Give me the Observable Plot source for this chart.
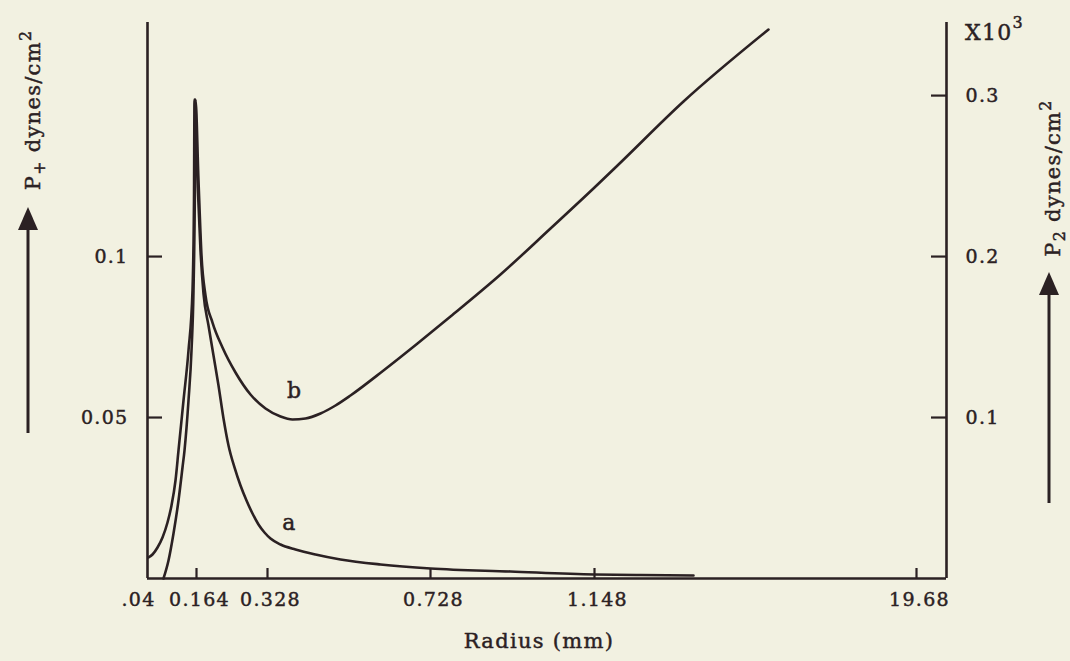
<!DOCTYPE html>
<html>
<head>
<meta charset="utf-8">
<script src="https://cdn.jsdelivr.net/npm/d3@7"></script>
<script src="https://cdn.jsdelivr.net/npm/@observablehq/plot@0.6"></script>
<style>
  html, body { margin: 0; padding: 0; background: #f2f1e1; }
  #chart svg text { letter-spacing: 1.3px; stroke: #2b2123; stroke-width: 0.45px; }
</style>
</head>
<body>
<div id="chart"></div>
<script>
// ---- tick values and labels ----
const xTicks = [0.04, 0.164, 0.328, 0.728, 1.148, 19.68];
const xTickLabels = [".04", "0.164", "0.328", "0.728", "1.148", "19.68"];
const xAxisEnd = 21.4;                     // right end of the radius axis
const leftTicks = [0.05, 0.1];
const leftTickLabels = ["0.05", "0.1"];
const rightTicks = [0.1, 0.2, 0.3];        // P2 (x10^3) dynes/cm^2
const rightTickLabels = ["0.1", "0.2", "0.3"];
const rightPerLeft = 2;                    // right-axis units per left-axis unit
const yTop = 0.1727;

// ---- curve a : P+ (left axis) ----
const radiusA = [0.04253, 0.05265, 0.06531, 0.07796, 0.09061, 0.10073, 0.11086, 0.11845, 0.13110, 0.14375,
                 0.15388, 0.15767, 0.15894,
                 0.16631, 0.17324, 0.18017, 0.19172, 0.20327, 0.21482, 0.22637, 0.23792, 0.25178, 0.26564,
                 0.27950, 0.29335, 0.30721, 0.32107, 0.33536, 0.35990, 0.39671, 0.44579, 0.50714, 0.60530,
                 0.728, 0.93288, 1.148, 3.79544, 6.84575];
const pressureA = [0.00652, 0.00745, 0.00963, 0.01273, 0.01739, 0.02267, 0.03044, 0.03976, 0.05529, 0.07082,
                   0.08945, 0.11741, 0.14878,
                   0.12362, 0.10188, 0.08852, 0.07858, 0.06926, 0.05995, 0.04970, 0.04131, 0.03448, 0.02889,
                   0.02423, 0.02019, 0.01677, 0.01429, 0.01242, 0.01056, 0.00901, 0.00745, 0.00590, 0.00435,
                   0.00311, 0.00217, 0.00124, 0.00109, 0.00093];

// ---- curve b : P2 (right axis, x10^3) ----
const radiusB = [0.08049, 0.09314, 0.10580, 0.11845, 0.12857, 0.13363, 0.14375, 0.15135, 0.15641, 0.15970,
                 0.16147,
                 0.16862, 0.17555, 0.18479, 0.20096, 0.22406, 0.25409, 0.28873, 0.32338, 0.36000, 0.38935,
                 0.42125, 0.45806, 0.49487, 0.53168, 0.61266, 0.69610, 0.77922, 0.90727, 1.03532, 1.148,
                 2.47172, 6.27022, 11.16222];
const pressureB = [0.0, 0.01118, 0.02795, 0.04845, 0.06895, 0.07951, 0.11057, 0.14163, 0.17891, 0.23481,
                   0.29755,
                   0.24724, 0.20065, 0.17580, 0.15903, 0.14350, 0.12797, 0.11430, 0.10560, 0.10063, 0.09877,
                   0.09939, 0.10250, 0.10747, 0.11368, 0.12921, 0.14598, 0.16275, 0.18884, 0.21742, 0.24289,
                   0.25656, 0.29631, 0.34104];

// ---- curve labels ----
const curveNames = ["a", "b"];
const curveLabelRadius = [0.382, 0.3945];
const curveLabelP = [0.0171, 0.0584];      // in left-axis units

const ink = "#2b2123";
const curveA = radiusA.map((r, i) => ({r, p: pressureA[i]}));
const curveB = radiusB.map((r, i) => ({r, p: pressureB[i]}));
const labels = curveNames.map((t, i) => ({t, r: curveLabelRadius[i], p: curveLabelP[i]}));
const rightTicksLeftUnits = rightTicks.map(d => d / rightPerLeft);
const xLabel = d => xTickLabels[xTicks.indexOf(d)];

const chart = Plot.plot({
  width: 1070,
  height: 661,
  marginLeft: 147,
  marginRight: 124,
  marginTop: 22,
  marginBottom: 83,
  style: {background: "#f2f1e1", color: ink, fontFamily: "'DejaVu Serif', serif", fontSize: "19px"},
  x: {type: "linear", domain: [...xTicks, xAxisEnd], range: [147, 196, 267, 430, 594, 916, 946]},
  y: {domain: [0, yTop]},
  marks: [
    // frame: left, right, bottom
    Plot.ruleX([xTicks[0], xAxisEnd], {stroke: ink, strokeWidth: 2.6}),
    Plot.ruleY([0], {stroke: ink, strokeWidth: 2.6}),
    // x ticks (inward) and labels
    Plot.axisX(xTicks.slice(1), {anchor: "bottom", tickSize: 10, dy: -10, tickFormat: () => "", label: null, stroke: ink, strokeWidth: 2.2}),
    Plot.axisX(xTicks.slice(0, 1), {anchor: "bottom", tickSize: 0, tickPadding: 14, dx: -9, tickFormat: xLabel, label: null, fontSize: 19}),
    Plot.axisX(xTicks.slice(1), {anchor: "bottom", tickSize: 0, tickPadding: 14, dx: 3, tickFormat: xLabel, label: null, fontSize: 19}),
    // left y ticks and labels
    Plot.axisY(leftTicks, {anchor: "left", tickSize: 15, dx: 15, tickFormat: () => "", label: null, stroke: ink, strokeWidth: 2.2}),
    Plot.axisY(leftTicks, {anchor: "left", tickSize: 0, tickPadding: 19, tickFormat: d => leftTickLabels[leftTicks.indexOf(d)], label: null, fontSize: 19}),
    // right y ticks and labels
    Plot.axisY(rightTicksLeftUnits, {anchor: "right", tickSize: 16, dx: -16, tickFormat: () => "", label: null, stroke: ink, strokeWidth: 2.2}),
    Plot.axisY(rightTicksLeftUnits, {anchor: "right", tickSize: 0, tickPadding: 19, tickFormat: d => rightTickLabels[rightTicksLeftUnits.indexOf(d)], label: null, fontSize: 19}),
    // curves
    Plot.line(curveA, {x: "r", y: "p", curve: "monotone-x", stroke: ink, strokeWidth: 2.6}),
    Plot.line(curveB, {x: "r", y: d => d.p / rightPerLeft, curve: "monotone-x", stroke: ink, strokeWidth: 2.6}),
    // curve labels
    Plot.text(labels, {x: "r", y: "p", text: "t", fontSize: 22, fill: ink}),
    // x axis title
    Plot.text(["Radius (mm)"], {frameAnchor: "bottom", dy: 69, dx: -8, fontSize: 21, fill: ink})
  ]
});

document.getElementById("chart").appendChild(chart);

// ---- axis titles with arrows, and the x10^3 multiplier ----
const svg = d3.select(chart);
const ann = svg.append("g").attr("fill", ink).attr("font-family", "'DejaVu Serif', serif");

function axisTitle(x, y, sub, size) {
  const t = ann.append("text")
    .attr("transform", `translate(${x},${y}) rotate(-90)`)
    .attr("text-anchor", "middle")
    .attr("font-size", size);
  t.append("tspan").text("P");
  t.append("tspan").attr("font-size", size * 0.75).attr("dy", 5).text(sub);
  t.append("tspan").attr("dy", -5).text(" dynes/cm");
  t.append("tspan").attr("font-size", size * 0.75).attr("dy", -9).text("2");
}
axisTitle(40, 110, "+", 21);
axisTitle(1060, 178, "2", 21);

function arrow(x, tipY, bottomY) {
  ann.append("line").attr("x1", x).attr("x2", x).attr("y1", bottomY).attr("y2", tipY + 20)
    .attr("stroke", ink).attr("stroke-width", 3);
  ann.append("path").attr("d", `M${x},${tipY} L${x - 10},${tipY + 23} L${x + 10},${tipY + 23} Z`);
}
arrow(28, 207, 433);
arrow(1049, 272, 503);

const mult = ann.append("text").attr("x", 965).attr("y", 40).attr("font-size", 22).attr("text-anchor", "start");
mult.append("tspan").text("X10");
mult.append("tspan").attr("font-size", 16).attr("dy", -12).text("3");
</script>
</body>
</html>
